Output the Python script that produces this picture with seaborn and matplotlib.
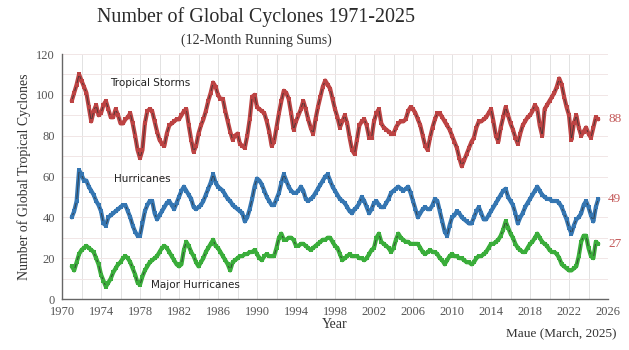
import numpy as np
import pandas as pd
import matplotlib
matplotlib.use("Agg")
import matplotlib.pyplot as plt
from matplotlib.ticker import MultipleLocator
import seaborn as sns

# Quarterly samples of the 12-month running sums, starting January 1971
start_year = 1971.0
step_years = 0.25

tropical_storms = [
    97, 101, 105, 110, 107, 104, 101, 94, 87, 92, 95, 90, 91, 95, 97, 93,
    89, 89, 93, 90, 86, 86, 88, 89, 91, 86, 80, 73, 69, 73, 86, 92,
    93, 92, 87, 82, 78, 76, 75, 81, 85, 86, 87, 88, 88, 90, 92, 93,
    85, 78, 72, 75, 81, 85, 88, 92, 97, 101, 106, 104, 100, 98, 98, 92,
    87, 82, 78, 80, 81, 76, 75, 74, 80, 88, 99, 100, 94, 93, 92, 91,
    87, 82, 75, 77, 84, 91, 97, 102, 101, 98, 91, 83, 87, 90, 93, 97,
    93, 88, 84, 81, 88, 94, 99, 104, 107, 105, 103, 98, 93, 89, 84, 87,
    90, 86, 79, 73, 71, 78, 85, 87, 88, 85, 79, 79, 87, 91, 93, 86,
    84, 83, 82, 81, 81, 84, 86, 87, 87, 88, 92, 94, 93, 91, 88, 85,
    80, 75, 73, 79, 84, 88, 91, 91, 89, 87, 85, 83, 80, 77, 74, 69,
    65, 68, 71, 74, 77, 79, 84, 87, 87, 88, 89, 91, 93, 87, 80, 77,
    84, 89, 94, 90, 86, 83, 79, 76, 81, 85, 87, 89, 90, 92, 95, 93,
    85, 80, 93, 95, 97, 99, 101, 104, 108, 105, 99, 94, 90, 78, 86, 90,
    84, 80, 82, 84, 81, 79, 84, 89, 88,
]

hurricanes = [
    40, 43, 48, 63, 61, 58, 58, 55, 53, 51, 48, 46, 43, 37, 36, 40,
    41, 42, 43, 44, 45, 46, 46, 43, 40, 36, 33, 31, 31, 37, 43, 46,
    48, 48, 42, 39, 41, 43, 45, 47, 48, 46, 44, 47, 50, 53, 55, 53,
    51, 49, 45, 44, 45, 46, 48, 51, 54, 57, 61, 57, 55, 54, 53, 51,
    49, 48, 46, 45, 44, 43, 42, 38, 40, 44, 49, 55, 59, 58, 56, 53,
    50, 48, 46, 46, 49, 52, 57, 61, 58, 55, 53, 52, 52, 53, 55, 53,
    49, 48, 49, 50, 52, 54, 56, 58, 60, 61, 58, 55, 53, 51, 49, 48,
    47, 45, 43, 42, 44, 45, 47, 50, 48, 45, 42, 44, 47, 48, 46, 45,
    45, 47, 49, 52, 53, 54, 55, 54, 53, 54, 55, 52, 48, 44, 40, 42,
    44, 45, 44, 44, 46, 49, 48, 43, 38, 33, 31, 36, 40, 41, 43, 42,
    40, 39, 38, 37, 37, 40, 43, 45, 42, 39, 39, 41, 43, 45, 47, 49,
    51, 53, 54, 50, 48, 46, 42, 37, 40, 42, 45, 47, 49, 51, 53, 55,
    53, 51, 50, 49, 49, 48, 48, 48, 47, 45, 42, 39, 35, 32, 36, 39,
    40, 42, 46, 48, 45, 41, 38, 45, 49,
]

major_hurricanes = [
    16, 14, 18, 22, 24, 25, 26, 25, 24, 23, 20, 17, 12, 9, 6, 8,
    10, 13, 15, 17, 18, 20, 21, 20, 18, 15, 12, 8, 7, 11, 14, 16,
    18, 19, 20, 21, 23, 25, 26, 25, 23, 21, 19, 17, 16, 17, 24, 28,
    26, 23, 21, 18, 16, 18, 20, 23, 25, 27, 29, 26, 25, 23, 21, 19,
    17, 14, 18, 19, 20, 21, 21, 22, 22, 23, 23, 24, 22, 20, 19, 21,
    22, 21, 21, 21, 25, 30, 32, 29, 29, 30, 30, 29, 26, 26, 27, 27,
    26, 25, 24, 25, 26, 27, 28, 29, 29, 30, 30, 28, 26, 25, 22, 19,
    20, 21, 22, 21, 21, 21, 20, 20, 19, 20, 22, 24, 25, 30, 32, 28,
    27, 26, 25, 23, 25, 29, 32, 30, 29, 28, 28, 27, 27, 27, 27, 25,
    23, 22, 23, 24, 23, 23, 22, 20, 19, 17, 19, 21, 22, 21, 21, 20,
    20, 19, 18, 18, 17, 18, 20, 21, 21, 22, 23, 25, 27, 27, 28, 29,
    31, 34, 38, 35, 32, 30, 27, 25, 24, 23, 23, 25, 27, 28, 30, 32,
    30, 28, 27, 26, 24, 23, 23, 22, 20, 17, 16, 15, 14, 14, 15, 16,
    21, 28, 31, 31, 25, 21, 20, 28, 27,
]

series_names = ["Tropical Storms", "Hurricanes", "Major Hurricanes"]
series_values = [tropical_storms, hurricanes, major_hurricanes]
series_colors = ["#bd4343", "#3576b2", "#3aad3a"]

x_tick_years = list(range(1970, 2027, 4))
y_ticks = [0, 20, 40, 60, 80, 100, 120]

frames = []
for name, vals in zip(series_names, series_values):
    years = start_year + step_years * np.arange(len(vals))
    frames.append(pd.DataFrame({"year": years, "count": vals, "series": name}))
df = pd.concat(frames, ignore_index=True)

sns.set_style("white")
plt.rcParams["font.family"] = ["Liberation Serif", "DejaVu Serif"]

fig = plt.figure(figsize=(6.29, 3.5), dpi=100)
ax = fig.add_axes([62 / 629, 1 - 299 / 350, (608 - 62) / 629, (299 - 54) / 350])

# light grid: every two years and every ten cyclones
for yr in range(1970, 2027, 2):
    ax.axvline(yr, color="#e2e2e2", lw=0.7, zorder=0)
for v in range(10, 121, 10):
    ax.axhline(v, color="#f1e6e6", lw=0.7, zorder=0)

for name, color in zip(series_names, series_colors):
    sub = df[df["series"] == name]
    # coloured band, thin dark connecting line, then coloured point markers
    sns.lineplot(data=sub, x="year", y="count", ax=ax, color=color, lw=3.0,
                 zorder=3)
    sns.lineplot(data=sub, x="year", y="count", ax=ax, color="#333333",
                 lw=0.6, alpha=0.85, zorder=4)
    sns.lineplot(data=sub, x="year", y="count", ax=ax, color=color, lw=0,
                 marker="s", markersize=3, markeredgewidth=0, zorder=5)
    last = sub["count"].iloc[-1]
    ax.text(2026.0, last, f"{last:.0f}", color="#c45a5a", fontsize=9.5,
            ha="left", va="center", clip_on=False)

# series captions
ax.text(1979.0, 106, "Tropical Storms", fontsize=7.5, color="#222222",
        ha="center", va="center", family="DejaVu Sans")
ax.text(1978.2, 59, "Hurricanes", fontsize=7.5, color="#222222",
        ha="center", va="center", family="DejaVu Sans")
ax.text(1983.7, 7, "Major Hurricanes", fontsize=7.5, color="#222222",
        ha="center", va="center", family="DejaVu Sans")

ax.set_xlim(1970, 2026)
ax.set_ylim(0, 120)
ax.set_xticks(x_tick_years)
ax.set_yticks(y_ticks)
ax.xaxis.set_minor_locator(MultipleLocator(1))
ax.tick_params(axis="both", which="major", labelsize=9, colors="#555555",
               length=3, width=0.8, direction="inout")
ax.tick_params(axis="x", which="minor", length=3, width=0.8, color="#555555",
               direction="inout")
ax.set_xlabel("Year", fontsize=10, color="#333333", labelpad=0)
ax.set_ylabel("Number of Global Tropical Cyclones", fontsize=10,
              color="#333333", labelpad=4)

for side in ["top", "right"]:
    ax.spines[side].set_visible(False)
for side in ["left", "bottom"]:
    ax.spines[side].set_color("#666666")
    ax.spines[side].set_linewidth(1.0)

fig.text(256 / 629, 1 - 17 / 350, "Number of Global Cyclones 1971-2025",
         fontsize=14.4, color="#2a2a2a", ha="center", va="center")
fig.text(256 / 629, 1 - 40 / 350, "(12-Month Running Sums)",
         fontsize=10, color="#333333", ha="center", va="center")
fig.text(617 / 629, 1 - 333 / 350, "Maue (March, 2025)", fontsize=9.5,
         color="#333333", ha="right", va="center")

fig.savefig("out.png", dpi=100)
